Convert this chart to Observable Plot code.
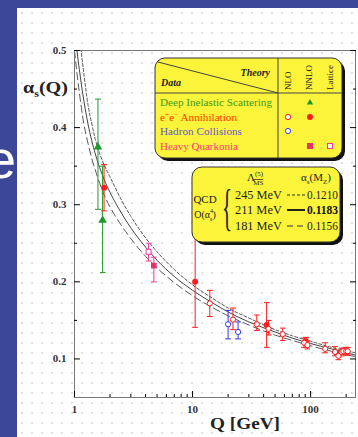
<!DOCTYPE html>
<html><head><meta charset="utf-8">
<script src="https://cdn.jsdelivr.net/npm/d3@7"></script>
<script src="https://cdn.jsdelivr.net/npm/@observablehq/plot@0.6"></script>
<style>
html,body{margin:0;padding:0;width:358px;height:437px;overflow:hidden;background:#3d4797;}
#slide{position:relative;width:358px;height:437px;overflow:hidden;background:#3d4797;font-family:"Liberation Serif","DejaVu Serif",serif;}
#bigE{position:absolute;left:-14px;top:132px;font:54px "Liberation Sans",Arial,sans-serif;color:#fff;line-height:1;}
#panel{position:absolute;left:17px;top:8px;width:341px;height:429px;background-color:#fff;background-image:radial-gradient(circle,#e0e0e0 0.8px,transparent 1.3px);background-size:10px 10px;}
#chart{position:absolute;left:0;top:0;}
#over{position:absolute;left:0;top:0;}
</style></head>
<body><div id="slide">
<div id="bigE">e</div>
<div id="panel"></div>
<div id="chart"></div>
<svg id="over" width="358" height="437" font-family="Liberation Serif, DejaVu Serif, serif">
  <!-- axis titles -->
  <text x="23" y="93" font-size="17" font-weight="bold" fill="#222" textLength="45" lengthAdjust="spacingAndGlyphs">α<tspan font-size="10" dy="4">s</tspan><tspan dy="-4">(Q)</tspan></text>
  <text x="210" y="429" font-size="17" font-weight="bold" fill="#222" textLength="70" lengthAdjust="spacingAndGlyphs">Q [GeV]</text>
  <!-- legend box 1 -->
  <rect x="158" y="61" width="187" height="100" rx="10" fill="#111"/>
  <rect x="155" y="58" width="187" height="100" rx="10" fill="#fcf43a" stroke="#333" stroke-width="1"/>
  <line x1="158" y1="62" x2="278" y2="93" stroke="#444"/>
  <line x1="278" y1="58" x2="278" y2="158" stroke="#444"/>
  <line x1="155" y1="93" x2="342" y2="93" stroke="#444"/>
  <text x="270" y="76" font-size="10" font-style="italic" font-weight="bold" text-anchor="end" fill="#222">Theory</text>
  <text x="161" y="86" font-size="10" font-style="italic" font-weight="bold" fill="#222">Data</text>
  <text transform="translate(291,90) rotate(-90)" font-size="9" fill="#222">NLO</text>
  <text transform="translate(312,90) rotate(-90)" font-size="9" fill="#222">NNLO</text>
  <text transform="translate(333,90) rotate(-90)" font-size="9" fill="#222">Lattice</text>
  <text x="160" y="106" font-size="10.5" fill="#3a9a20" textLength="112" lengthAdjust="spacingAndGlyphs">Deep Inelastic Scattering</text>
  <text x="160" y="121" font-size="10.5" fill="#ff3a00" textLength="77" lengthAdjust="spacingAndGlyphs">e<tspan font-size="7" dy="-4">+</tspan><tspan dy="4">e</tspan><tspan font-size="7" dy="-4">−</tspan><tspan dy="4"> Annihilation</tspan></text>
  <text x="160" y="135" font-size="10.5" fill="#6656c8" textLength="82" lengthAdjust="spacingAndGlyphs">Hadron Collisions</text>
  <text x="160" y="150" font-size="10.5" fill="#ff3a7a" textLength="78" lengthAdjust="spacingAndGlyphs">Heavy Quarkonia</text>
  <path d="M310,99 l3.2,5.5 h-6.4 z" fill="#1f9a2a"/>
  <circle cx="288" cy="117" r="2.6" fill="#fff" stroke="#ff1c1c" stroke-width="1"/>
  <circle cx="310" cy="117" r="3" fill="#ff1c1c"/>
  <circle cx="288" cy="131" r="2.6" fill="#fff" stroke="#3636e6" stroke-width="1"/>
  <rect x="307" y="143" width="6" height="6" fill="#e8306a"/>
  <rect x="327.5" y="143.5" width="5" height="5" fill="#fff" stroke="#f0389a"/>
  <!-- legend box 2 -->
  <rect x="195" y="170" width="148" height="75" rx="10" fill="#111"/>
  <rect x="192" y="167" width="148" height="75" rx="10" fill="#fcf43a" stroke="#333" stroke-width="1"/>
  <text x="247" y="181" font-size="11" fill="#222">Λ<tspan font-size="7" dy="-5">(5)</tspan><tspan font-size="7" dx="-10" dy="9" text-decoration="overline">MS</tspan></text>
  <text x="301" y="181" font-size="11" fill="#222">α<tspan font-size="7" dy="3">s</tspan><tspan dy="-3">(M</tspan><tspan font-size="7" dy="3">Z</tspan><tspan dy="-3">)</tspan></text>
  <text x="205" y="203" font-size="11" fill="#222" text-anchor="middle">QCD</text>
  <text x="205" y="218" font-size="10" fill="#222" text-anchor="middle">O(α<tspan font-size="6" dy="-5">4</tspan><tspan font-size="6" dx="-3" dy="8">s</tspan><tspan dy="-3">)</tspan></text>
  <text transform="translate(222,224) scale(0.42,1)" font-size="50" fill="#222">{</text>
  <text x="235" y="199" font-size="11.5" fill="#222" textLength="47" lengthAdjust="spacingAndGlyphs">245 MeV</text>
  <text x="235" y="214" font-size="11.5" fill="#222" textLength="47" lengthAdjust="spacingAndGlyphs">211 MeV</text>
  <text x="235" y="230" font-size="11.5" fill="#222" textLength="47" lengthAdjust="spacingAndGlyphs">181 MeV</text>
  <line x1="287" y1="195" x2="305" y2="195" stroke="#333" stroke-width="1" stroke-dasharray="3,2"/>
  <line x1="287" y1="210" x2="305" y2="210" stroke="#222" stroke-width="2"/>
  <line x1="287" y1="226" x2="305" y2="226" stroke="#333" stroke-width="1" stroke-dasharray="6,4"/>
  <text x="307" y="199" font-size="11.5" fill="#222" textLength="31" lengthAdjust="spacingAndGlyphs">0.1210</text>
  <text x="307" y="214" font-size="11.5" font-weight="bold" fill="#111" textLength="31" lengthAdjust="spacingAndGlyphs">0.1183</text>
  <text x="307" y="230" font-size="11.5" fill="#222" textLength="31" lengthAdjust="spacingAndGlyphs">0.1156</text>
</svg>
</div>
<script>
// ---- theory curves ----
const curveQ    = [1.0, 1.05, 1.1, 1.2, 1.3, 1.4, 1.5, 1.78, 2, 2.5, 3, 4, 5, 7, 10, 15, 20, 30, 50, 70, 100, 150, 240];
const curve245  = [0.58, 0.55, 0.52, 0.47, 0.43, 0.405, 0.385, 0.352, 0.336, 0.306, 0.285, 0.257, 0.239, 0.216, 0.196, 0.178, 0.166, 0.153, 0.138, 0.130, 0.123, 0.115, 0.108];
const curve211  = [0.54, 0.50, 0.475, 0.435, 0.405, 0.383, 0.366, 0.333, 0.316, 0.289, 0.270, 0.245, 0.228, 0.207, 0.189, 0.172, 0.161, 0.148, 0.135, 0.127, 0.120, 0.113, 0.105];
const curve181  = [0.50, 0.47, 0.445, 0.405, 0.38, 0.36, 0.345, 0.313, 0.297, 0.273, 0.256, 0.233, 0.218, 0.199, 0.182, 0.166, 0.156, 0.144, 0.131, 0.124, 0.117, 0.110, 0.103];

// ---- measurements ----
const ptQ      = [1.58, 1.73, 1.78, 4.24, 4.7, 10.52, 14, 20, 22, 24.3, 35, 42.4, 44, 58, 88, 91.2, 94, 133, 161, 172, 183, 189, 200, 206];
const ptAlpha  = [0.375, 0.280, 0.322, 0.239, 0.221, 0.200, 0.172, 0.145, 0.151, 0.135, 0.145, 0.144, 0.139, 0.132, 0.121, 0.123, 0.118, 0.113, 0.109, 0.104, 0.109, 0.110, 0.110, 0.110];
const ptLo     = [0.294, 0.212, 0.292, 0.227, 0.200, 0.141, 0.155, 0.126, 0.138, 0.126, 0.137, 0.115, 0.131, 0.124, 0.115, 0.119, 0.113, 0.108, 0.104, 0.099, 0.104, 0.106, 0.105, 0.105];
const ptHi     = [0.437, 0.350, 0.352, 0.250, 0.232, 0.260, 0.189, 0.163, 0.166, 0.148, 0.157, 0.173, 0.150, 0.140, 0.127, 0.128, 0.123, 0.121, 0.116, 0.110, 0.114, 0.114, 0.115, 0.115];
const ptData   = ["DIS","DIS","ee","HQ","HQ","ee","ee","had","ee","had","ee","ee","ee","ee","ee","ee","ee","ee","ee","ee","ee","ee","ee","ee"];
const ptTheory = ["NNLO","NNLO","NNLO","Lattice","NNLO","NNLO","NLO","NLO","NLO","NLO","NLO","NNLO","NLO","NLO","NLO","NNLO","NLO","NLO","NLO","NLO","NLO","NLO","NLO","NLO"];

const xMajor = [1, 10, 100];
const xMinor = [2,3,4,5,6,7,8,9,20,30,40,50,60,70,80,90,200];
const yMajor = [0.1, 0.2, 0.3, 0.4, 0.5];
const yMinor = [0.15, 0.25, 0.35, 0.45];

const dataColor = {DIS: "#1f9a2a", ee: "#ff1c1c", had: "#3636e6", HQ: "#f0389a"};

const curves = [];
curveQ.forEach((q, i) => {
  curves.push({Q: q, a: curve245[i], s: "245"});
  curves.push({Q: q, a: curve211[i], s: "211"});
  curves.push({Q: q, a: curve181[i], s: "181"});
});
const pts = ptQ.map((q, i) => ({Q: q, a: ptAlpha[i], lo: ptLo[i], hi: ptHi[i], data: ptData[i], th: ptTheory[i], color: dataColor[ptData[i]]}));

const axisFont = {fontSize: 11, fontWeight: "bold", fill: "#333"};

const chart = Plot.plot({
  width: 358, height: 437,
  marginLeft: 74, marginRight: 3, marginTop: 50, marginBottom: 40,
  style: {background: "transparent", fontFamily: "Liberation Serif, DejaVu Serif, serif"},
  x: {type: "log", domain: [1, 240]},
  y: {domain: [0.05, 0.5]},
  color: {type: "identity"},
  marks: [
    Plot.line(curves.filter(d => d.s === "245"), {x: "Q", y: "a", stroke: "#555", strokeWidth: 1, strokeDasharray: "3,2", curve: "monotone-x", clip: true}),
    Plot.line(curves.filter(d => d.s === "211"), {x: "Q", y: "a", stroke: "#444", strokeWidth: 1, curve: "monotone-x", clip: true}),
    Plot.line(curves.filter(d => d.s === "181"), {x: "Q", y: "a", stroke: "#555", strokeWidth: 1, strokeDasharray: "7,4", curve: "monotone-x", clip: true}),
    Plot.link(pts, {x1: "Q", x2: "Q", y1: "lo", y2: "hi", stroke: "color", strokeWidth: 1, markerStart: "tick", markerEnd: "tick"}),
    Plot.dot(pts.filter(d => d.data === "DIS"), {x: "Q", y: "a", symbol: "triangle", fill: "color", r: 3.2}),
    Plot.dot(pts.filter(d => d.th === "NNLO" && d.data === "ee"), {x: "Q", y: "a", fill: "color", r: 3}),
    Plot.dot(pts.filter(d => d.th === "NLO"), {x: "Q", y: "a", stroke: "color", fill: "white", strokeWidth: 1, r: 2.6}),
    Plot.dot(pts.filter(d => d.data === "HQ" && d.th === "NNLO"), {x: "Q", y: "a", symbol: "square", fill: "#e8306a", r: 3.2}),
    Plot.dot(pts.filter(d => d.data === "HQ" && d.th === "Lattice"), {x: "Q", y: "a", symbol: "square", stroke: "color", fill: "white", strokeWidth: 1, r: 2.8}),
    Plot.frame({stroke: "#777", strokeWidth: 1}),
    Plot.axisX({ticks: xMajor, tickSize: -6, tickPadding: 14, tickFormat: d => String(d), label: null, ...axisFont}),
    Plot.axisX({ticks: xMinor, tickSize: -3, tickFormat: () => "", label: null}),
    Plot.axisY({ticks: yMajor, tickSize: -6, tickPadding: 14, tickFormat: d3.format(".1f"), label: null, ...axisFont}),
    Plot.axisY({ticks: yMinor, tickSize: -3, tickFormat: () => "", label: null}),
    Plot.axisY({anchor: "right", ticks: yMajor, tickSize: -6, tickFormat: () => "", label: null}),
    Plot.axisY({anchor: "right", ticks: yMinor, tickSize: -3, tickFormat: () => "", label: null})
  ]
});
document.getElementById("chart").appendChild(chart);
</script>
</body></html>
